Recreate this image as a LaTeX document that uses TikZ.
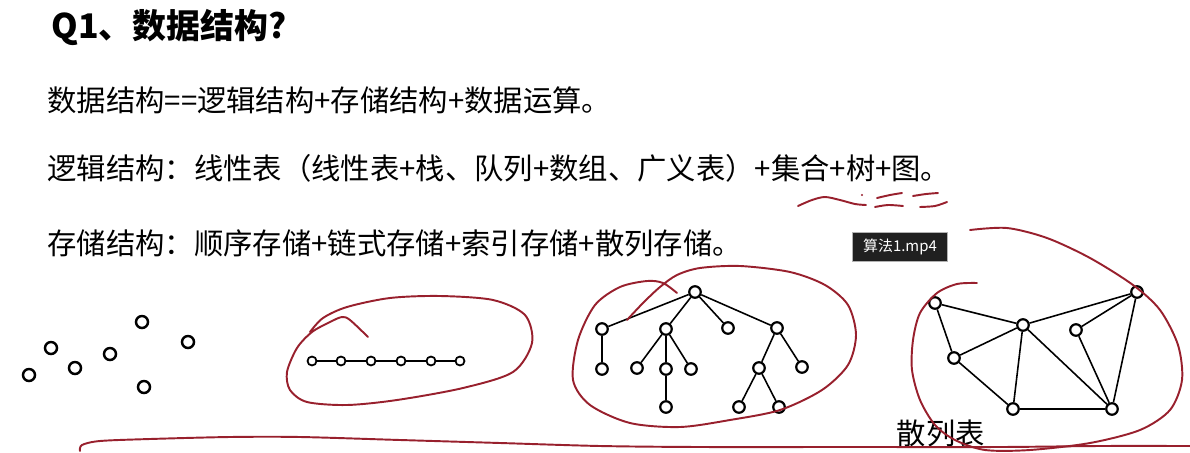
\documentclass[tikz,border=0pt]{standalone}
\usepackage{fontspec}
\newfontfamily\cjk{Noto Sans CJK SC}
\usetikzlibrary{positioning}
\definecolor{ink}{RGB}{152,32,45}
\definecolor{badgebg}{RGB}{32,32,32}

\begin{document}
\begin{tikzpicture}[x=0.02cm,y=-0.02cm,
  every node/.style={font=\cjk},
  body/.style={anchor=west,inner sep=0pt,font=\cjk\fontsize{16.7}{19}\selectfont},
  setdot/.style={circle,draw,line width=1.4pt,minimum size=0.24cm,inner sep=0pt},
  listdot/.style={circle,draw,line width=1pt,minimum size=0.18cm,inner sep=0pt},
  treedot/.style={circle,draw,line width=1.25pt,minimum size=0.23cm,inner sep=0pt},
  edge/.style={line width=0.9pt},
  pen/.style={draw=ink,line width=1.1pt,line cap=round,line join=round}]
  \useasboundingbox (0,0) rectangle (1190,453);

  % heading and text lines
  \node[anchor=west,inner sep=0pt,font=\cjk\bfseries\fontsize{19.3}{22}\selectfont] (title) at (51,27) {Q1、数据结构?};
  \node[body] (def) at (47,100) {数据结构==逻辑结构+存储结构+数据运算。};
  \node[body] (logic) at (47,168) {逻辑结构：线性表（线性表+栈、队列+数组、广义表）+集合+树+图。};
  \node[body] (store) at (47,243) {存储结构：顺序存储+链式存储+索引存储+散列存储。};
  \node[fill=badgebg,draw=gray!60,text=white,inner sep=0pt,minimum width=1.9cm,minimum height=0.58cm,
    font=\cjk\fontsize{8.5}{10}\selectfont] (video) at (900,247) {算法1.mp4};

  % set
  \node[setdot] (s1) at (29,375) {};
  \node[setdot] (s2) at (51,348) {};
  \node[setdot] (s3) at (75,368) {};
  \node[setdot] (s4) at (110,354) {};
  \node[setdot] (s5) at (142,322) {};
  \node[setdot] (s6) at (188,342) {};
  \node[setdot] (s7) at (144,387) {};

  % linear list
  \foreach \i/\x in {1/312,2/341,3/371,4/401,5/431,6/460}
    \node[listdot] (l\i) at (\x,361) {};
  \draw[edge] (l1) -- (l2) -- (l3) -- (l4) -- (l5) -- (l6);

  % tree
  \node[treedot] (t0) at (695,292) {};
  \node[treedot] (ta) at (602,329) {};
  \node[treedot] (tb) at (666,329) {};
  \node[treedot] (tc) at (728,328) {};
  \node[treedot] (td) at (777,328) {};
  \node[treedot] (ta1) at (602,369) {};
  \node[treedot] (tb1) at (637,368) {};
  \node[treedot] (tb2) at (666,369) {};
  \node[treedot] (tb3) at (691,369) {};
  \node[treedot] (tb4) at (666,407) {};
  \node[treedot] (td1) at (759,368) {};
  \node[treedot] (td2) at (802,367) {};
  \node[treedot] (td3) at (739,407) {};
  \node[treedot] (td4) at (779,407) {};
  \foreach \a/\b in {t0/ta,t0/tb,t0/tc,t0/td,ta/ta1,tb/tb1,tb/tb2,tb/tb3,tb2/tb4,td/td1,td/td2,td1/td3,td1/td4}
    \draw[edge] (\a) -- (\b);

  % graph
  \node[treedot] (g1) at (935,303) {};
  \node[treedot] (g2) at (1023,325) {};
  \node[treedot] (g3) at (1137,292) {};
  \node[treedot] (g4) at (1076,330) {};
  \node[treedot] (g5) at (954,358) {};
  \node[treedot] (g6) at (1013,409) {};
  \node[treedot] (g7) at (1112,409) {};
  \foreach \a/\b in {g1/g2,g1/g5,g2/g5,g2/g3,g2/g6,g2/g7,g5/g6,g6/g7,g3/g4,g3/g7,g4/g7}
    \draw[edge] (\a) -- (\b);
  \node[body,anchor=center] (hash) at (941,433) {散列表};

  % red pen marks
  \draw[pen] plot[smooth] coordinates {(798,206) (812,200) (825,197) (840,200) (855,204) (866,205)};
  \fill[ink] (862,195) circle (0.7pt);
  \draw[pen] plot[smooth] coordinates {(877,198) (890,195) (902,193)};
  \draw[pen] plot[smooth] coordinates {(875,207) (888,205) (903,206)};
  \draw[pen] plot[smooth] coordinates {(913,196) (926,194) (938,193)};
  \draw[pen] plot[smooth] coordinates {(920,207) (935,206) (947,202)};
  \draw[pen] plot[smooth] coordinates {(368,337) (350,320) (342,317) (330,322) (312,332) (297,348) (287,372) (290,390) (307,402) (347,405) (397,400) (463,388) (513,372) (532,343) (525,315) (493,300) (440,296) (390,298) (347,307) (323,318) (310,332)};
  \draw[pen] plot[smooth] coordinates {(677,293) (663,283) (647,281) (620,287) (595,305) (578,340) (573,380) (590,405) (630,423) (680,427) (730,420) (780,410) (822,390) (848,365) (856,335) (848,305) (825,285) (790,272) (740,266) (700,268) (677,275) (660,287) (643,303) (627,320)};
  \draw[pen] plot[smooth] coordinates {(970,230) (1007,228) (1047,238) (1090,258) (1133,285) (1160,310) (1178,345) (1182,380) (1170,410) (1140,430) (1090,443) (1030,450) (985,450) (955,440) (935,425) (920,400) (912,370) (913,340) (920,313) (937,293) (957,284) (977,283)};
  \draw[pen] plot[smooth] coordinates {(80,451) (82,445) (100,441) (150,439) (230,437) (300,437) (400,440) (500,443) (600,446) (700,447) (850,447) (1000,447) (1100,446) (1190,446)};
\end{tikzpicture}
\end{document}
